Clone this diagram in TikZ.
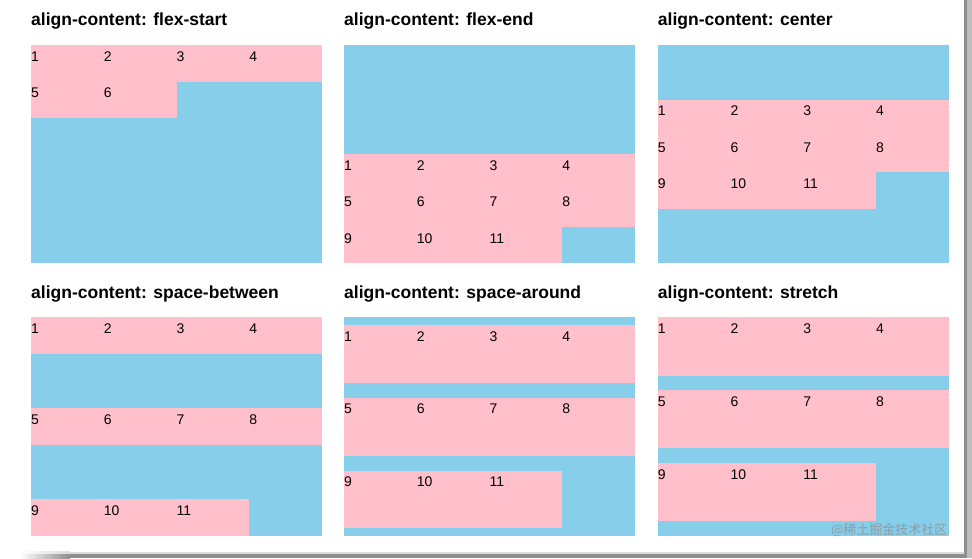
\documentclass[tikz,border=0pt]{standalone}
\usepackage{fontspec}
\setmainfont{Liberation Sans}
\newfontfamily\cjkfont{Noto Sans CJK SC}
\definecolor{skyb}{HTML}{87CEEB}
\definecolor{pinkc}{HTML}{FFC0CB}
\definecolor{frameDark}{HTML}{8E8E8E}
\definecolor{frameLight}{HTML}{BDBDBD}
\definecolor{frameFaint}{HTML}{DDDDDD}
\tikzset{
  container/.style={fill=skyb},
  item/.style={rectangle, fill=pinkc, inner sep=0pt, outer sep=0pt, minimum width=72.75pt, anchor=north west},
  num/.style={anchor=base west, inner sep=0pt, font=\fontsize{14}{16}\selectfont},
  paneltitle/.style={anchor=base west, inner sep=0pt, font=\fontsize{17.5}{20}\selectfont\bfseries},
  wm/.style={anchor=east, inner sep=0pt, text=black!45, opacity=0.75, font=\cjkfont\fontsize{13}{15}\selectfont},
}
\newcommand\flexpanel[7]{%
  \fill[container] (#2,#3) rectangle ++(291,218.4);
  \node[paneltitle] (#1-title) at (#2,#3-19.2) {align-content: #4};
  \foreach \n in {1,...,#5} {
    \pgfmathtruncatemacro\rowi{(\n-1)/4}
    \pgfmathsetmacro\coli{mod(\n-1,4)}
    \pgfmathsetmacro\dy{{#7}[\rowi]}
    \node[item, minimum height=#6pt] (#1-\n) at (#2+\coli*72.75, #3+\dy) {};
    \node[num] (#1-n\n) at ([yshift=-16.3pt]#1-\n.north west) {\n};
  }
}
\begin{document}
\begin{tikzpicture}[x=1pt, y=-1pt]
\useasboundingbox (0,0) rectangle (972,558);
\fill[white] (0,0) rectangle (972,558);
\flexpanel{p1}{31}{45}{flex-start}{6}{36.5}{0,36.5}
\flexpanel{p2}{344}{45}{flex-end}{11}{36.4}{109.2,145.6,182}
\flexpanel{p3}{657.7}{45}{center}{11}{36.4}{54.6,91,127.4}
\flexpanel{p4}{31}{317.3}{space-between}{11}{36.4}{0,91,182}
\flexpanel{p5}{344}{317.3}{space-around}{11}{57.9}{7.45,80.35,153.25}
\flexpanel{p6}{657.7}{317.3}{stretch}{11}{58.4}{0,72.7,145.4}
\node[wm] (wm) at (947.5,530.5) {@稀土掘金技术社区};
% window frame shadow
\shade[left color=white, right color=frameFaint] (20,551.5) rectangle (70,554);
\fill[frameFaint] (70,551.5) rectangle (963.5,554);
\shade[left color=white, right color=frameDark] (20,554) rectangle (70,558);
\fill[frameDark] (70,554) rectangle (963.5,558);
\fill[frameLight] (966.5,0) rectangle (972,558);
\fill[frameDark] (963.5,0) rectangle (966.5,558);
\end{tikzpicture}
\end{document}
